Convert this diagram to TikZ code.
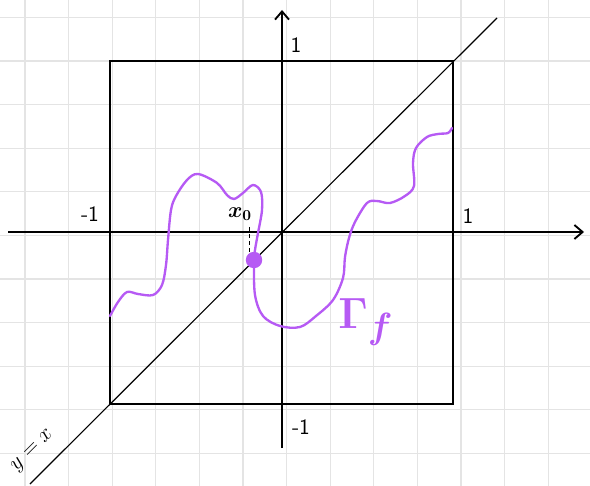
\documentclass[tikz,border=0pt]{standalone}
\usepackage{amsmath}
\usepackage{bm}
\usetikzlibrary{arrows.meta}
\definecolor{gridgray}{HTML}{E4E4E4}
\definecolor{curvepurple}{HTML}{B65AF4}
\tikzset{
  gridline/.style={gridgray, line width=0.9pt},
  axisline/.style={black, line width=1.6pt, -{Straight Barb[length=7pt,width=12pt,line width=1.6pt]}},
  boxline/.style={black, line width=1pt},
  curveline/.style={curvepurple, line width=2pt, line cap=round, line join=round},
  ticklabel/.style={black, font=\sffamily\Large, scale=1.3, inner sep=1pt},
}
\begin{document}
\begin{tikzpicture}[x=0.03cm,y=-0.03cm]
\useasboundingbox (0,0) rectangle (590,486);
% grid
\foreach \i in {0,...,12} {
  \draw[gridline] ({25+43.6*\i},0) -- ({25+43.6*\i},486);
}
\foreach \j in {0,...,10} {
  \draw[gridline] (0,{17.4+43.6*\j}) -- (590,{17.4+43.6*\j});
}
% coordinates
\coordinate (xl) at (8,232);
\coordinate (xr) at (584,232);
\coordinate (yb) at (282,448);
\coordinate (yt) at (282,10);
\coordinate (dlo) at (30,484);
\coordinate (dhi) at (497,18);
% box
\draw[boxline] (110,61) rectangle (453,404);
% diagonal
\draw[black, line width=1pt] (dlo) -- (dhi);
% axes
\draw[axisline] (xl) -- (xr);
\draw[axisline] (yb) -- (yt);
% labels
\node[ticklabel] (ytop) at (296,45) {1};
\node[ticklabel] (xneg) at (90,214) {-1};
\node[ticklabel] (xpos) at (468,216) {1};
\node[ticklabel] (ybot) at (301,427) {-1};
\node[black, font=\Large, scale=1.3, inner sep=1pt] (x0) at (240,214) {$\bm{x_0}$};
\node[black, font=\LARGE, scale=1.1, rotate=45, inner sep=1pt] (yx) at (33,451) {$y = x$};
\node[curvepurple, font=\Huge, scale=1.5, inner sep=1pt] (gamma) at (366,322) {$\bm{\Gamma}_{\bm{f}}$};
% graph of f
\draw[curveline] plot[smooth, tension=0.55] coordinates {
  (110,316) (118,302) (127,292) (138,294) (153,295) (162,285) (166,265)
  (168,240) (171,210) (176,196) (187,180) (198,174) (217,183) (227,195)
  (234,199) (243,193) (253,185) (261,192) (262,210) (258,233) (255,250)
  (254,262) (255,295) (263,316) (280,326) (300,327) (316,316) (333,300)
  (343,278) (345,257) (349,238) (355,222) (367,203) (377,201) (390,203)
  (405,196) (414,186) (413,163) (416,148) (427,137) (438,134) (448,133) (452,128)
};
% fixed point
\node[circle, fill=curvepurple, inner sep=0pt, minimum size=14pt] (fp) at (254,260) {};
\draw[black, dashed, line width=0.7pt] (249,227) -- (249,252);
\end{tikzpicture}
\end{document}
